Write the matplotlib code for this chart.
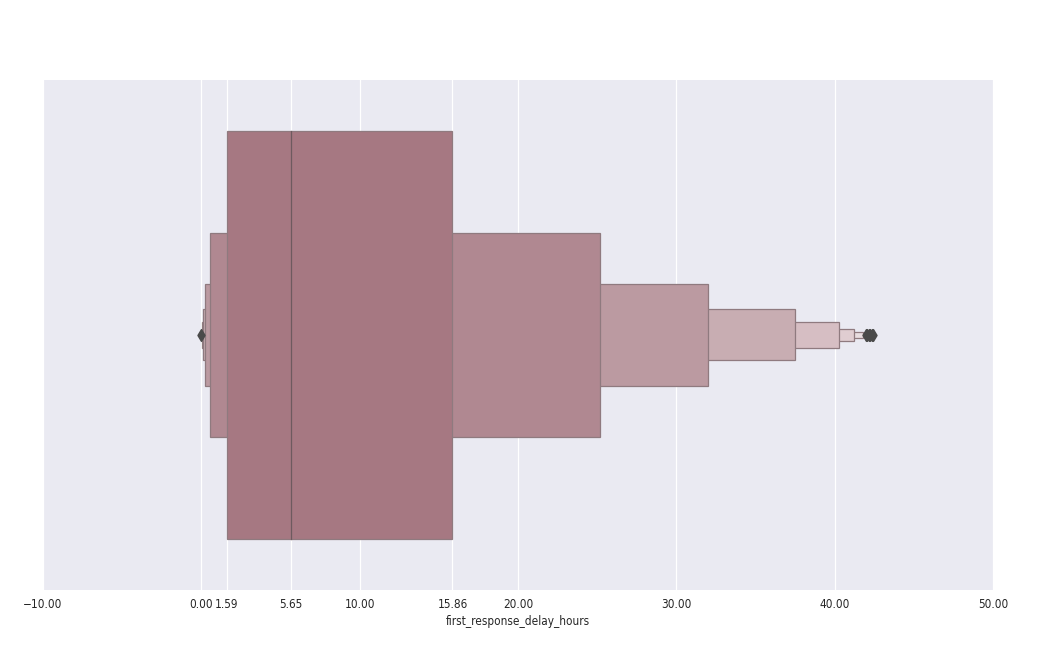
import matplotlib.pyplot as plt

# letter values, from the innermost box (quartiles) outwards
lower = [1.59, 0.57, 0.24, 0.09, 0.04, 0.02, 0.01]
upper = [15.86, 25.2, 32.0, 37.5, 40.3, 41.2, 41.8]
median = 5.65
outliers = [0.0, 41.95, 42.05, 42.15, 42.25, 42.35, 42.45]

box_colors = ["#a67882", "#b08891", "#bb9aa1", "#c8adb2", "#d6bec3", "#e0cdd1", "#e8dde0"]
tick_vals = [-10, 0, 1.59, 5.65, 10, 15.86, 20, 30, 40, 50]

fig = plt.figure(figsize=(10.41, 6.65), dpi=100)
ax = fig.add_axes([0.0413, 0.1128, 0.9126, 0.7669])
ax.set_facecolor("#eaeaf2")
for s in ax.spines.values():
    s.set_visible(False)

# widths halve with each level
heights = [0.8 / 2 ** i for i in range(len(lower))]
for i in range(len(lower) - 1, -1, -1):
    ax.barh(0, upper[i] - lower[i], left=lower[i], height=heights[i],
            color=box_colors[i], edgecolor="#8f7a7f", linewidth=0.9, zorder=2 + (len(lower) - i))
ax.plot([median, median], [-0.4, 0.4], color="#6e5a5f", linewidth=0.9, zorder=20)
ax.scatter(outliers, [0] * len(outliers), marker="d", s=36, color="#4a4a4a", zorder=21)

ax.set_xlim(-10, 50)
ax.set_ylim(0.5, -0.5)
ax.set_yticks([])
ax.set_xticks(tick_vals)
ax.set_xticklabels([("%.2f" % v).replace("-", "\u2212") for v in tick_vals],
                   fontsize=8.5, fontstretch="condensed")
ax.tick_params(axis="x", length=0, colors="#262626", pad=6)
ax.grid(axis="x", color="white", linewidth=0.9, zorder=0)
ax.set_axisbelow(True)
ax.set_xlabel("first_response_delay_hours", fontsize=8.5, fontstretch="condensed",
              color="#262626", labelpad=3)

fig.savefig("out.png", dpi=100)
